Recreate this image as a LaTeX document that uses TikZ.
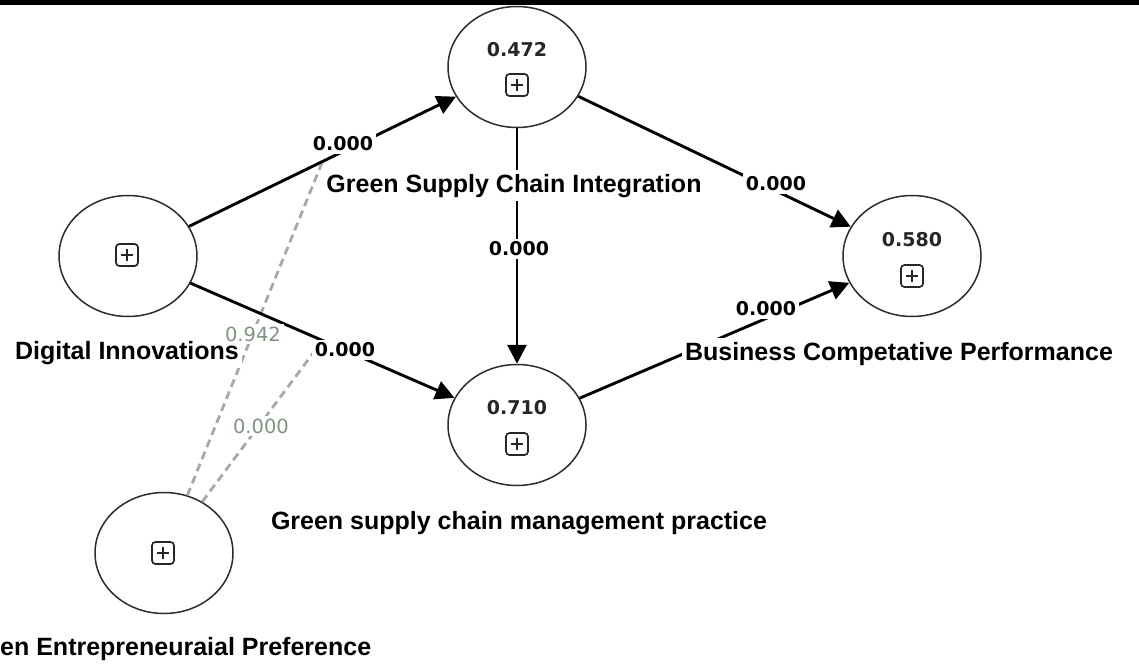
\documentclass[tikz,border=0pt]{standalone}
\usepackage{fontspec}
\setmainfont{Liberation Sans}
\newfontfamily\numfont{DejaVu Sans}
\usetikzlibrary{shapes.geometric,arrows.meta,calc}

\definecolor{rim}{RGB}{45,45,45}
\definecolor{modline}{RGB}{168,168,168}
\definecolor{modtext}{RGB}{128,146,128}

\begin{document}
\begin{tikzpicture}[x=1pt,y=-1pt,
  construct/.style={ellipse, draw=rim, line width=1.5pt, fill=white,
    minimum width=138pt, minimum height=121pt, inner sep=0pt},
  expander/.style={rectangle, draw=black!85, line width=1.7pt,
    rounded corners=3.5pt, minimum size=22pt, inner sep=0pt,
    path picture={
      \draw[line width=1.7pt, black!85]
        ([xshift=5pt]path picture bounding box.west) -- ([xshift=-5pt]path picture bounding box.east)
        ([yshift=-5pt]path picture bounding box.north) -- ([yshift=5pt]path picture bounding box.south);
    }},
  caption/.style={font=\fontsize{25}{30}\selectfont\bfseries, fill=white,
    inner xsep=3pt, inner ysep=4pt, anchor=base},
  coef/.style={font=\numfont\bfseries\fontsize{19}{23}\selectfont, fill=white, inner sep=3pt},
  modcoef/.style={font=\numfont\fontsize{19.5}{23}\selectfont, text=modtext, fill=white, inner sep=3pt},
  rsq/.style={font=\numfont\bfseries\fontsize{19}{23}\selectfont, text=black!85, inner sep=0pt},
  effect/.style={draw=black, line width=2.9pt, -{Triangle[length=19pt,width=19pt]}},
  moderation/.style={draw=modline, line width=2.8pt, dash pattern=on 8pt off 5pt}
]
\useasboundingbox (0,0) rectangle (1139,669);
\fill[white] (0,0) rectangle (1139,669);

% top rule
\fill[black] (0,0) rectangle (1139,5);

% constructs
\node[construct] (GSCI)  at (517,67)  {};
\node[construct] (DI)    at (128,256) {};
\node[construct] (BCP)   at (912,256) {};
\node[construct] (GSCMP) at (517,425) {};
\node[construct] (GEP)   at (164,553) {};

% R squared values and indicator expanders
\node[rsq] (r1) at (517,50)  {0.472};
\node[rsq] (r2) at (912,240) {0.580};
\node[rsq] (r3) at (517,408) {0.710};
\node[expander] (x1) at (517,85)  {};
\node[expander] (x2) at (912,276) {};
\node[expander] (x3) at (517,444) {};
\node[expander] (x4) at (127,255) {};
\node[expander] (x5) at (163,553) {};

% moderating effects
\coordinate (m1) at ($(DI)!0.5!(GSCI)$);
\coordinate (m2) at ($(DI)!0.5!(GSCMP)$);
\draw[moderation] (GEP) -- (m1);
\draw[moderation] (GEP) -- (m2);

% structural paths
\draw[effect] (DI) -- (GSCI);
\draw[effect] (DI) -- (GSCMP);
\draw[effect] (GSCI) -- (GSCMP);
\draw[effect] (GSCI) -- (BCP);
\draw[effect] (GSCMP) -- (BCP);

% construct names
\node[caption] (t1) at (514,192) {Green Supply Chain Integration};
\node[caption] (t2) at (127,359) {Digital Innovations};
\node[caption] (t3) at (899,360) {Business Competative Performance};
\node[caption] (t4) at (519,529) {Green supply chain management practice};
\node[caption, anchor=base west, inner xsep=0pt] (t5) at (0,655) {en Entrepreneuraial Preference};

% path coefficients
\node[modcoef] (c6) at (253,334) {0.942};
\node[modcoef] (c7) at (261,426) {0.000};
\node[coef] (c1) at (343,144) {0.000};
\node[coef] (c2) at (776,184) {0.000};
\node[coef] (c3) at (519,249) {0.000};
\node[coef] (c4) at (766,309) {0.000};
\node[coef] (c5) at (345,350) {0.000};
\end{tikzpicture}
\end{document}
